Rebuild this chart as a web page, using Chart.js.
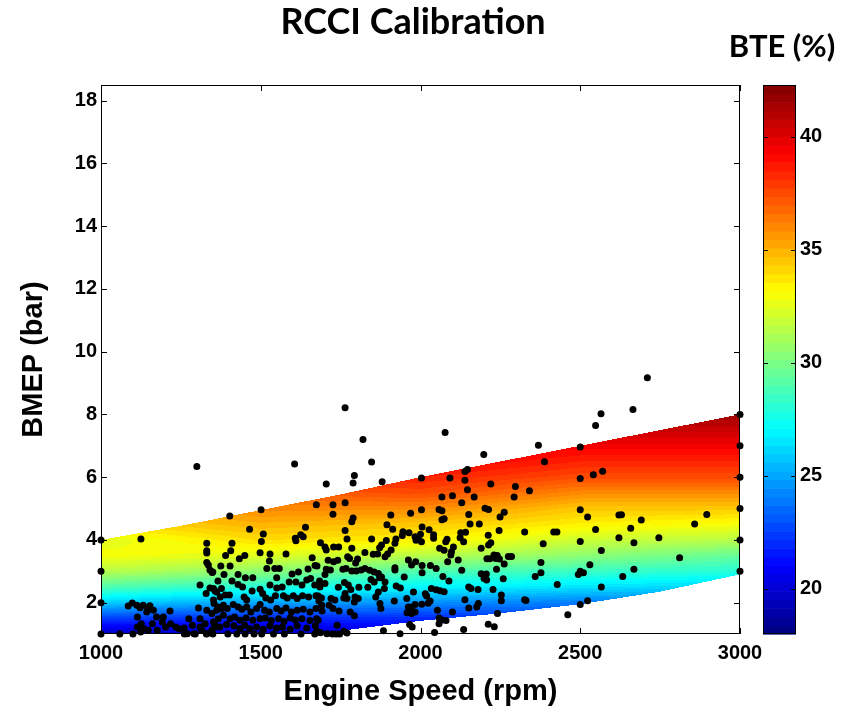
<!DOCTYPE html>
<html>
<head>
<meta charset="utf-8">
<script src="https://cdn.jsdelivr.net/npm/chart.js@4.4.1/dist/chart.umd.min.js"></script>
<style>
  html, body { margin: 0; padding: 0; background: #fff; }
  #wrap { position: relative; width: 852px; height: 712px; }
</style>
</head>
<body>
<div id="wrap"><canvas id="chart" width="852" height="712"></canvas></div>
<script>
// axis ticks
const speedTicks = [1000, 1500, 2000, 2500, 3000];
const bmepTicks = [2, 4, 6, 8, 10, 12, 14, 16, 18];
const bteTicks = [20, 25, 30, 35, 40];
const bteMin = 18, bteMax = 42.3;

// BTE surface (rows = BMEP, cols = speed)
const gridSpeed = [1000, 1500, 2000, 2500, 3000];
const gridBmep = [1, 1.5, 2, 2.5, 3, 3.5, 4, 4.5, 5, 5.5, 6, 6.5, 7, 7.5, 8];
const gridBte = [
  [19.5, 19.5, 20.5, 21.5, 22],
  [22.5, 22, 22, 22.5, 23],
  [26, 25, 24.5, 24, 24],
  [29, 28, 27, 26.5, 26],
  [31.5, 30.5, 29, 28.5, 28],
  [33, 32.5, 31.5, 30.5, 29.5],
  [32.5, 34, 33.5, 32, 31.5],
  [34, 35, 34.5, 33.5, 33],
  [35, 36, 36, 34.5, 34.5],
  [36, 37, 37.5, 36, 36],
  [37, 38, 38.5, 37.5, 37.5],
  [38, 39, 39.5, 38.5, 38.5],
  [39, 40, 40, 39.5, 39.5],
  [40, 40.5, 40.5, 40.5, 40.5],
  [41, 41, 41, 41.5, 41.5]
];

// limits of the calibrated region
const edgeSpeed = [1000, 1250, 1500, 1750, 2000, 2250, 2500, 2750, 3000];
const edgeLow = [0.2, 0.5, 0.8, 1.1, 1.42, 1.66, 1.95, 2.35, 2.9];
const edgeHigh = [4.0, 4.45, 4.95, 5.45, 6.0, 6.5, 7.0, 7.5, 8.0];

// test points [speed rpm, BMEP bar]
const testPoints = [
  [3000,8],[3000,7],[3000,6],[3000,5],[3000,4],[3000,3],
  [1000,1],[1000,2],[1000,3],[1000,4],
  [2710,9.17],[2665,8.16],[2565,8.02],[2548,7.65],[2500,6.96],[2500,5.96],[2541,6.08],[2570,6.19],
  [2500,4.96],[2523,4.73],[2548,4.33],[2621,4.79],[2629,4.8],[2658,4.37],[2691,4.63],[2500,3.95],
  [2621,4.07],[2668,3.91],[2746,4.07],[2858,4.51],[2896,4.81],[2566,3.66],[2811,3.43],[2530,3.21],
  [2500,3.0],[2510,2.95],[2494,2.9],[2668,3.06],[2633,2.83],[2566,2.5],[2523,2.06],[2500,1.94],
  [2077,7.42],[2369,7.02],[2198,6.72],[2388,6.49],[2003,5.97],[2092,5.97],[2139,6.18],[2147,6.24],
  [2139,5.9],[2220,5.78],[2297,5.7],[2341,5.57],[2147,5.6],[2067,5.37],[2100,5.41],[2168,5.37],
  [2129,5.18],[2293,5.37],[2003,4.96],[2058,4.97],[2067,4.93],[2202,5.01],[2213,4.97],[2262,4.88],
  [2249,4.73],[2151,4.81],[2067,4.64],[2074,4.67],[2155,4.51],[2184,4.51],[2005,4.41],[2027,4.32],
  [2000,4.18],[2003,3.94],[2041,4.16],[2041,4.05],[2126,4.23],[2124,4.07],[2141,4.24],[2135,3.94],
  [2212,4.15],[2246,4.3],[2326,4.25],[2417,4.25],[2427,4.25],[2083,4.02],[2079,3.94],[2103,3.77],
  [2060,3.73],[2074,3.67],[2097,3.62],[2095,3.52],[2220,3.91],[2213,3.84],[2190,3.73],[2384,3.88],
  [2118,3.36],[2085,3.3],[2208,3.4],[2217,3.4],[2230,3.52],[2240,3.5],[2247,3.39],[2236,3.41],
  [2275,3.47],[2285,3.47],[2262,3.23],[2238,3.06],[2377,3.28],[2005,3.18],[2031,3.18],[2049,3.09],
  [2129,3.03],[2005,2.95],[2070,2.83],[2089,2.69],[2190,2.92],[2206,2.91],[2199,2.77],[2207,2.72],
  [2259,2.76],[2377,2.95],[2359,2.83],[2428,2.58],[2151,2.5],[2158,2.45],[2180,2.42],[2227,2.42],
  [2034,2.45],[2049,2.41],[2061,2.38],[2074,2.35],[2015,2.28],[2019,2.21],[2253,2.24],[2253,2.06],
  [2139,2.09],[2181,1.97],[2176,1.86],[2151,1.83],[2326,2.09],[2330,2.07],[2030,2.05],[2024,1.98],
  [2004,1.95],[2053,1.76],[2100,1.7],[2241,1.65],[2461,1.61],[2058,1.51],[2067,1.45],[2080,1.43],
  [2058,1.33],[2212,1.31],[2231,1.23],[2135,1.14],[2044,1.05],
  [1820,7.2],[1847,6.48],[1793,6.05],[1789,5.81],[1705,5.78],[1880,5.85],[1674,5.12],[1726,5.12],
  [1764,5.18],[1726,4.82],[1789,4.7],[1785,4.58],[1907,4.79],[1969,4.85],[1764,4.3],[1770,4.03],
  [1895,4.48],[1913,4.34],[1945,4.26],[1943,4.14],[1964,4.23],[1983,4.1],[1993,4.07],[1986,3.99],
  [1687,3.91],[1728,3.77],[1744,3.77],[1701,3.77],[1705,3.68],[1785,3.73],[1847,4.03],[1872,3.75],
  [1878,3.84],[1893,3.98],[1923,4.03],[1920,3.89],[1908,3.68],[1897,3.55],[1889,3.46],[1826,3.6],
  [1852,3.54],[1866,3.55],[1772,3.46],[1778,3.41],[1803,3.39],[1797,3.26],[1741,3.35],[1728,3.3],
  [1711,3.35],[1670,3.18],[1676,3.17],[1705,3.06],[1718,3.04],[1701,2.9],[1757,3.06],[1767,3.09],
  [1785,3.01],[1799,3.01],[1814,3.04],[1826,3.09],[1841,3.03],[1855,2.98],[1868,2.93],[1878,2.82],
  [1889,2.66],[1872,2.79],[1920,3.04],[1920,3.11],[1949,2.82],[1972,3.2],[1985,3.3],[1962,3.36],
  [1684,2.69],[1701,2.61],[1743,2.49],[1762,2.64],[1774,2.56],[1782,2.42],[1807,2.49],[1835,2.49],
  [1845,2.74],[1855,2.66],[1887,2.45],[1868,2.34],[1860,2.18],[1924,2.53],[1937,2.47],[1978,2.34],
  [1957,2.13],[1918,2.05],[1962,1.86],[1972,1.85],[1983,1.94],[1958,1.68],[1972,1.65],[1983,1.7],
  [1873,1.97],[1876,1.81],[1805,2.13],[1793,2.02],[1795,2.18],[1764,2.29],[1760,2.15],[1770,2.13],
  [1732,2.08],[1720,2.13],[1680,2.21],[1682,2.05],[1691,1.92],[1714,1.92],[1726,1.81],[1745,1.73],
  [1780,1.7],[1793,1.58],[1680,1.44],[1739,1.28],[1707,1.01],[1724,1.0],[1736,1.0],[1747,1.0],
  [1770,1.03],[1760,1.09],[1676,1.09],[1687,1.04],[1884,1.1],[1936,1.01],[1966,1.3],[1974,1.22],
  [1501,4.96],[1403,4.76],[1465,4.34],[1508,4.19],[1502,3.95],[1640,4.4],[1608,4.05],[1610,3.97],
  [1625,4.16],[1633,4.1],[1410,3.89],[1406,3.65],[1390,3.5],[1450,3.5],[1433,3.4],[1498,3.59],
  [1529,3.55],[1527,3.33],[1579,3.55],[1661,3.43],[1375,3.17],[1404,3.17],[1519,3.09],[1544,3.09],
  [1558,3.09],[1598,2.91],[1618,2.98],[1648,3.07],[1350,2.98],[1385,2.9],[1429,2.9],[1452,2.79],
  [1475,2.79],[1550,2.79],[1366,2.69],[1410,2.69],[1429,2.58],[1443,2.5],[1529,2.56],[1550,2.47],
  [1567,2.5],[1589,2.66],[1610,2.66],[1629,2.56],[1644,2.72],[1656,2.77],[1669,2.56],[1685,2.5],
  [1352,2.45],[1362,2.34],[1377,2.45],[1389,2.24],[1402,2.24],[1448,2.18],[1456,2.08],[1473,2.37],
  [1498,2.43],[1506,2.29],[1516,2.15],[1531,2.08],[1546,2.22],[1571,2.22],[1583,2.15],[1602,2.22],
  [1614,2.13],[1631,2.22],[1650,2.18],[1673,2.22],[1690,2.15],[1354,1.97],[1366,1.86],[1383,1.92],
  [1395,1.81],[1414,1.94],[1429,1.86],[1441,1.79],[1456,1.86],[1469,1.7],[1487,1.81],[1498,1.94],
  [1512,1.76],[1527,1.7],[1550,1.81],[1564,1.73],[1579,1.83],[1596,1.7],[1614,1.76],[1633,1.79],
  [1654,1.7],[1673,1.81],[1692,1.73],[1383,1.6],[1404,1.49],[1418,1.54],[1435,1.44],[1454,1.51],
  [1475,1.44],[1498,1.49],[1514,1.51],[1533,1.43],[1556,1.49],[1573,1.4],[1592,1.51],[1608,1.45],
  [1629,1.49],[1654,1.43],[1675,1.49],[1356,1.3],[1372,1.22],[1393,1.3],[1416,1.26],[1435,1.17],
  [1450,1.28],[1466,1.17],[1487,1.22],[1508,1.15],[1529,1.26],[1550,1.19],[1568,1.22],[1592,1.15],
  [1614,1.26],[1644,1.19],[1671,1.26],
  [1059,1],[1100,1],[1261,1],[1295,1],[1330,1],[1350,1],[1397,1],[1425,1],[1451,1],[1479,1],
  [1503,1],[1540,1],[1574,1],[1626,1],[1669,1],
  [1300,6.34],[1606,6.42],[1764,8.21],[1125,4.03],
  [1331,3.89],[1331,3.65],[1331,3.58],[1331,3.28],[1336,3.2],[1341,3.04],[1348,2.96],
  [1310,2.56],[1341,2.47],[1329,2.29],[1357,2.37],[1373,2.18],[1352,2.08],[1305,1.83],[1331,1.76],
  [1347,1.65],[1362,1.76],[1378,1.81],[1085,1.89],[1098,1.99],[1112,1.92],[1122,1.84],[1132,1.92],
  [1146,1.83],[1153,1.9],[1143,1.7],[1164,1.76],[1174,1.54],[1195,1.54],[1216,1.73],[1114,1.54],
  [1126,1.33],[1114,1.22],[1134,1.17],[1124,1.06],[1148,1.12],[1161,1.33],[1176,1.12],[1192,1.38],
  [1202,1.22],[1218,1.33],[1234,1.22],[1244,1.17],[1260,1.19],[1275,1.49],[1286,1.28],[1270,1.01],
  [1291,1.01],[1310,1.49],[1326,1.33],[1310,1.22],[1315,1.12],[1331,1.01],[1347,1.12],[1357,1.22],
  [1352,1.38],[1367,1.49]
];

// helpers
function locate(arr, v) {
  let i = 0;
  while (i < arr.length - 2 && v > arr[i + 1]) i++;
  const t = Math.min(1, Math.max(0, (v - arr[i]) / (arr[i + 1] - arr[i])));
  return [i, t];
}
function interp1(xs, ys, v) {
  const [i, t] = locate(xs, v);
  return ys[i] + (ys[i + 1] - ys[i]) * t;
}
function bteAt(sp, bm) {
  const [i, tx] = locate(gridSpeed, sp);
  const [j, ty] = locate(gridBmep, bm);
  const a = gridBte[j][i], b = gridBte[j][i + 1];
  const c = gridBte[j + 1][i], d = gridBte[j + 1][i + 1];
  return (a * (1 - tx) + b * tx) * (1 - ty) + (c * (1 - tx) + d * tx) * ty;
}
// jet colormap, 64 levels like matlab
function jet(v) {
  let t = (v - bteMin) / (bteMax - bteMin);
  let k = Math.min(63, Math.max(0, Math.floor(t * 64)));
  t = (k + 0.5) / 64;
  const cl = (x) => Math.round(255 * Math.min(1, Math.max(0, x)));
  return [cl(1.5 - Math.abs(4 * t - 3)), cl(1.5 - Math.abs(4 * t - 2)), cl(1.5 - Math.abs(4 * t - 1))];
}

// surface + box with inward ticks
const surfacePlugin = {
  id: "surface",
  beforeDatasetsDraw(chart) {
    const { ctx, chartArea: a, scales } = chart;
    const xs = scales.x, ys = scales.y;
    const w = Math.round(a.right - a.left), h = Math.round(a.bottom - a.top);
    const off = document.createElement("canvas");
    off.width = w; off.height = h;
    const octx = off.getContext("2d");
    const img = octx.createImageData(w, h);
    for (let i = 0; i < w; i++) {
      const sp = xs.getValueForPixel(a.left + i + 0.5);
      const lo = interp1(edgeSpeed, edgeLow, sp);
      const hi = interp1(edgeSpeed, edgeHigh, sp);
      for (let j = 0; j < h; j++) {
        const bm = ys.getValueForPixel(a.top + j + 0.5);
        if (bm < lo || bm > hi) continue;
        const col = jet(bteAt(sp, bm));
        const k = (j * w + i) * 4;
        img.data[k] = col[0]; img.data[k + 1] = col[1]; img.data[k + 2] = col[2]; img.data[k + 3] = 255;
      }
    }
    octx.putImageData(img, 0, 0);
    ctx.drawImage(off, a.left, a.top);

    // frame
    ctx.save();
    ctx.strokeStyle = "#000";
    ctx.lineWidth = 1;
    ctx.strokeRect(a.left + 0.5, a.top + 0.5, a.right - a.left - 1, a.bottom - a.top - 1);
    ctx.beginPath();
    speedTicks.forEach((v) => {
      const px = Math.round(xs.getPixelForValue(v)) + 0.5;
      ctx.moveTo(px, a.bottom); ctx.lineTo(px, a.bottom - 6);
      ctx.moveTo(px, a.top); ctx.lineTo(px, a.top + 6);
    });
    bmepTicks.forEach((v) => {
      const py = Math.round(ys.getPixelForValue(v)) + 0.5;
      ctx.moveTo(a.left, py); ctx.lineTo(a.left + 6, py);
      ctx.moveTo(a.right, py); ctx.lineTo(a.right - 6, py);
    });
    ctx.stroke();
    ctx.restore();
  },
  afterDraw(chart) {
    const { ctx, scales } = chart;
    const cb = scales.cb;
    const x0 = cb.left + 23, x1 = cb.left + 56;
    ctx.save();
    const step = (bteMax - bteMin) / 64;
    for (let k = 0; k < 64; k++) {
      const v0 = bteMin + k * step, v1 = v0 + step;
      const y0 = cb.getPixelForValue(v0), y1 = cb.getPixelForValue(v1);
      const c = jet(v0 + step / 2);
      ctx.fillStyle = `rgb(${c[0]},${c[1]},${c[2]})`;
      ctx.fillRect(x0, y1, x1 - x0, y0 - y1 + 0.6);
    }
    ctx.strokeStyle = "#000";
    ctx.lineWidth = 1;
    ctx.strokeRect(x0 + 0.5, cb.top + 0.5, x1 - x0 - 1, cb.bottom - cb.top - 1);
    ctx.beginPath();
    bteTicks.forEach((v) => {
      const py = Math.round(cb.getPixelForValue(v)) + 0.5;
      ctx.moveTo(x0, py); ctx.lineTo(x0 + 5, py);
      ctx.moveTo(x1, py); ctx.lineTo(x1 - 5, py);
    });
    ctx.stroke();

    // titles
    ctx.fillStyle = "#000";
    ctx.textAlign = "center";
    ctx.textBaseline = "middle";
    ctx.font = "bold 36px Lato";
    ctx.fillText("RCCI Calibration", 413, 22);
    ctx.font = "bold 31px Lato";
    ctx.fillText("BTE (%)", 782, 47);
    ctx.restore();
  }
};

Chart.defaults.font.family = "'Liberation Sans', Arial, sans-serif";
Chart.defaults.color = "#000";

const tickFont = { size: 20, weight: "bold" };
const titleFont = { size: 29, weight: "bold" };
const plainLabel = (v) => String(v);

new Chart(document.getElementById("chart"), {
  type: "scatter",
  data: {
    datasets: [
      {
        label: "Test points",
        data: testPoints.map(([s, b]) => ({ x: s, y: b })),
        pointRadius: 3.5,
        pointBackgroundColor: "#000",
        pointBorderWidth: 0,
        clip: false,
      },
    ],
  },
  options: {
    responsive: false,
    animation: false,
    devicePixelRatio: 1,
    layout: { padding: { top: 85, left: 0, right: 0, bottom: 0 } },
    plugins: { legend: { display: false }, tooltip: { enabled: false } },
    scales: {
      x: {
        type: "linear",
        position: "bottom",
        min: 1000,
        max: 3000,
        afterBuildTicks: (s) => { s.ticks = speedTicks.map((v) => ({ value: v })); },
        afterFit: (s) => { s.height = 78; },
        grid: { display: false, drawTicks: false },
        border: { display: false },
        ticks: { font: tickFont, padding: 7, maxRotation: 0, autoSkip: false, callback: plainLabel },
        title: { display: true, text: "Engine Speed (rpm)", font: titleFont, padding: { top: 0, bottom: 3 } },
      },
      y: {
        type: "linear",
        position: "left",
        min: 1,
        max: 18.5,
        afterBuildTicks: (s) => { s.ticks = bmepTicks.map((v) => ({ value: v })); },
        afterFit: (s) => { s.width = 101; },
        grid: { display: false, drawTicks: false },
        border: { display: false },
        ticks: { font: tickFont, padding: 4, autoSkip: false, callback: plainLabel },
        title: { display: true, text: "BMEP (bar)", font: titleFont, padding: { top: 17, bottom: 0 } },
      },
      cb: {
        type: "linear",
        position: "right",
        min: bteMin,
        max: bteMax,
        afterBuildTicks: (s) => { s.ticks = bteTicks.map((v) => ({ value: v })); },
        afterFit: (s) => { s.width = 112; },
        grid: { display: false, drawTicks: false },
        border: { display: false },
        ticks: { font: tickFont, padding: 60, autoSkip: false, callback: plainLabel },
      },
    },
  },
  plugins: [surfacePlugin],
});
</script>
</body>
</html>
